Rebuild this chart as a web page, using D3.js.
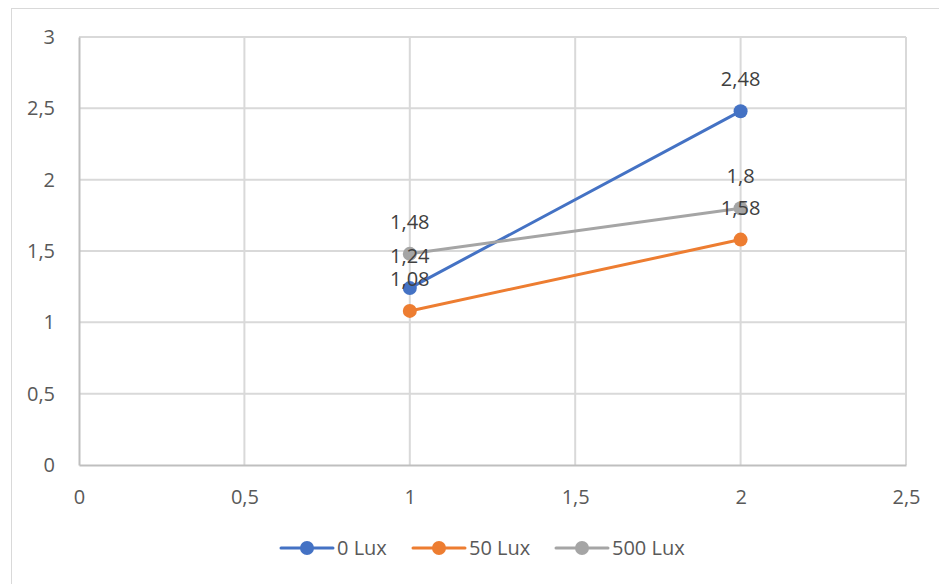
<!DOCTYPE html>
<html><head><meta charset="utf-8">
<script src="https://cdn.jsdelivr.net/npm/d3@7"></script>
<style>
body{margin:0;background:#fff;}
text{font-family:"Open Sans","Noto Sans",sans-serif;}
</style></head>
<body><svg id="c" width="939" height="584"></svg>
<script>
const seriesNames = ["0 Lux", "50 Lux", "500 Lux"];
const seriesColors = ["#4472C4", "#ED7D31", "#A5A5A5"];
const xValues = [1, 2];
const lux0 = [1.24, 2.48];
const lux50 = [1.08, 1.58];
const lux500 = [1.48, 1.8];
const xTicks = [0, 0.5, 1, 1.5, 2, 2.5];
const yTicks = [0, 0.5, 1, 1.5, 2, 2.5, 3];

const seriesData = [lux0, lux50, lux500];
const fmt = v => String(v).replace(".", ",");
const FS = "20px";

const svg = d3.select("#c");
// chart border
svg.append("rect").attr("x", 11.5).attr("y", 8.5).attr("width", 960).attr("height", 600)
  .attr("fill", "none").attr("stroke", "#d9d9d9").attr("stroke-width", 1);

const x = d3.scaleLinear().domain([0, 2.5]).range([79, 906]);
const y = d3.scaleLinear().domain([0, 3]).range([465, 37]);

// gridlines
const g = svg.append("g");
g.selectAll(".gy").data(yTicks.filter(t => t > 0)).join("line")
  .attr("x1", x(0)).attr("x2", x(2.5)).attr("y1", d => y(d)).attr("y2", d => y(d))
  .attr("stroke", "#d9d9d9").attr("stroke-width", 2);
g.selectAll(".gx").data(xTicks.filter(t => t > 0)).join("line")
  .attr("y1", y(0)).attr("y2", y(3)).attr("x1", d => x(d)).attr("x2", d => x(d))
  .attr("stroke", "#d9d9d9").attr("stroke-width", 2);

// axes
const yAxis = d3.axisLeft(y).tickValues(yTicks).tickSize(0).tickPadding(24).tickFormat(fmt);
const ya = svg.append("g").attr("transform", `translate(${x(0)},0)`).call(yAxis);
const xAxis = d3.axisBottom(x).tickValues(xTicks).tickSize(0).tickPadding(25).tickFormat(fmt);
const xa = svg.append("g").attr("transform", `translate(0,${y(0)})`).call(xAxis);
[ya, xa].forEach(a => {
  a.select(".domain").attr("stroke", "#bfbfbf").attr("stroke-width", 2);
  a.selectAll("text").attr("fill", "#595959").style("font-size", FS).style("font-family", '"Open Sans","Noto Sans",sans-serif');
});

// series
const line = d3.line().x((d, i) => x(xValues[i])).y(d => y(d));
seriesData.forEach((vals, si) => {
  const sg = svg.append("g");
  sg.append("path").datum(vals).attr("d", line).attr("fill", "none")
    .attr("stroke", seriesColors[si]).attr("stroke-width", 3).attr("stroke-linecap", "round");
  sg.selectAll("circle").data(vals).join("circle")
    .attr("cx", (d, i) => x(xValues[i])).attr("cy", d => y(d)).attr("r", 7)
    .attr("fill", seriesColors[si]);
});
// data labels
seriesData.forEach((vals, si) => {
  svg.append("g").selectAll("text").data(vals).join("text")
    .attr("x", (d, i) => x(xValues[i])).attr("y", d => y(d) - 25)
    .attr("text-anchor", "middle").attr("fill", "#404040").style("font-size", FS)
    .text(fmt);
});

// legend
const legendX = [281, 413, 556];
const lg = svg.append("g");
seriesNames.forEach((n, i) => {
  const lx = legendX[i], ly = 548;
  lg.append("line").attr("x1", lx).attr("x2", lx + 52).attr("y1", ly).attr("y2", ly)
    .attr("stroke", seriesColors[i]).attr("stroke-width", 3).attr("stroke-linecap", "round");
  lg.append("circle").attr("cx", lx + 26).attr("cy", ly).attr("r", 7).attr("fill", seriesColors[i]);
  lg.append("text").attr("x", lx + 56).attr("y", ly).attr("dy", "0.35em")
    .attr("fill", "#595959").style("font-size", FS).text(n);
});
</script></body></html>
